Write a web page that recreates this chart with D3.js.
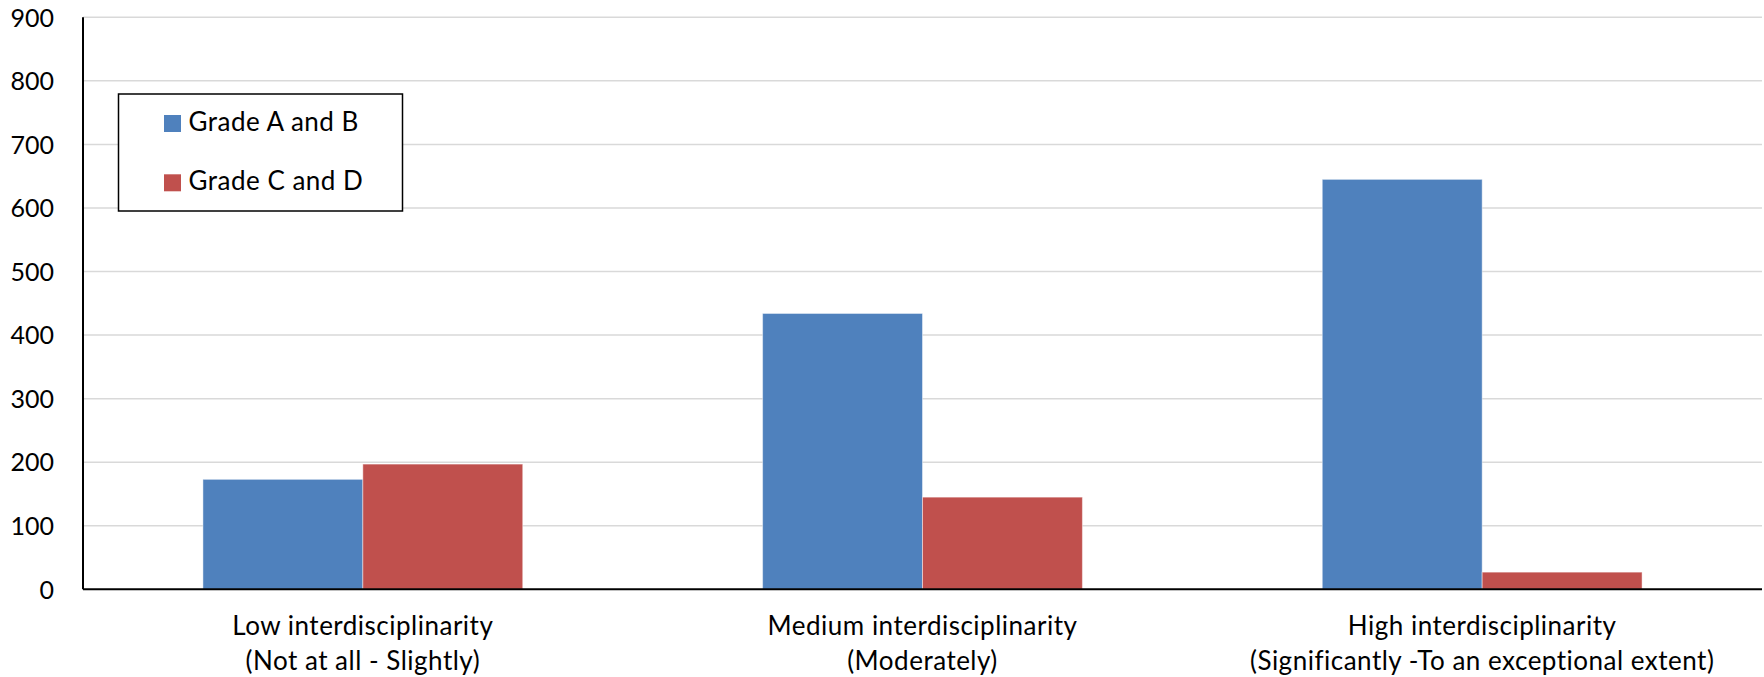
<!DOCTYPE html>
<html>
<head>
<meta charset="utf-8">
<script src="https://cdn.jsdelivr.net/npm/d3@7"></script>
<style>
  html, body { margin: 0; padding: 0; background: #fff; }
  svg { display: block; font-family: Lato, "Open Sans", sans-serif; }
</style>
</head>
<body>
<svg id="chart" width="1764" height="677"></svg>
<script>
const categories = [
  ["Low interdisciplinarity", "(Not at all - Slightly)"],
  ["Medium interdisciplinarity", "(Moderately)"],
  ["High interdisciplinarity", "(Significantly -To an exceptional extent)"]
];
const seriesNames = ["Grade A and B", "Grade C and D"];
const gradeAB = [173, 434, 645];
const gradeCD = [197, 145, 27];
const yTicks = [0, 100, 200, 300, 400, 500, 600, 700, 800, 900];
const colors = ["#4F81BD", "#C0504D"];

(function () {
const svg = d3.select("#chart");
const pLeft = 83, pRight = 1762, pTop = 17.3, pBottom = 589.3;
const catKeys = categories.map((c, i) => i);

const x0 = d3.scaleBand().domain(catKeys).range([pLeft, pRight]).paddingInner(0).paddingOuter(0);
const x1 = d3.scaleBand().domain([0, 1]).range([0, x0.bandwidth()]).paddingInner(0).paddingOuter(0.75);
const y = d3.scaleLinear().domain([0, 900]).range([pBottom, pTop]);

// gridlines
svg.append("g").selectAll("line").data(yTicks.filter(d => d > 0)).join("line")
  .attr("x1", pLeft).attr("x2", pRight)
  .attr("y1", d => y(d)).attr("y2", d => y(d))
  .attr("stroke", "#d9d9d9").attr("stroke-width", 1.5);

// y axis labels
const yAxis = d3.axisLeft(y).tickValues(yTicks).tickSize(0);
const gy = svg.append("g").attr("transform", `translate(${pLeft},0)`).call(yAxis);
gy.select(".domain").remove();
gy.selectAll("text").attr("font-size", 25).attr("fill", "#000")
  .attr("font-family", "Lato, sans-serif").attr("dy", "0.35em").attr("x", -29);

// bars
const data = catKeys.map(i => [gradeAB[i], gradeCD[i]]);
const groups = svg.append("g").selectAll("g").data(data).join("g")
  .attr("transform", (d, i) => `translate(${x0(i)},0)`);
groups.selectAll("rect").data(d => d.map((v, s) => ({v, s}))).join("rect")
  .attr("x", d => x1(d.s))
  .attr("width", x1.bandwidth())
  .attr("y", d => y(d.v))
  .attr("height", d => y(0) - y(d.v))
  .attr("fill", d => colors[d.s])
  .attr("stroke", "rgba(255,255,255,0.45)").attr("stroke-width", 1);

// axes lines
svg.append("line").attr("x1", pLeft).attr("x2", pLeft).attr("y1", pTop).attr("y2", pBottom)
  .attr("stroke", "#000").attr("stroke-width", 2);
svg.append("line").attr("x1", pLeft).attr("x2", pRight).attr("y1", pBottom).attr("y2", pBottom)
  .attr("stroke", "#000").attr("stroke-width", 2);

// x labels
const xl = svg.append("g").selectAll("text").data(categories).join("text")
  .attr("x", (d, i) => x0(i) + x0.bandwidth() / 2)
  .attr("y", 635)
  .attr("text-anchor", "middle")
  .attr("font-size", 26).attr("letter-spacing", "0.5px").attr("fill", "#000");
xl.selectAll("tspan").data(d => d).join("tspan")
  .attr("x", function() { return d3.select(this.parentNode).attr("x"); })
  .attr("dy", (d, j) => j === 0 ? 0 : 35)
  .text(d => d);

// legend
const lg = svg.append("g");
lg.append("rect").attr("x", 118.5).attr("y", 94).attr("width", 284).attr("height", 117)
  .attr("fill", "#fff").attr("stroke", "#000").attr("stroke-width", 1.5);
const items = lg.selectAll("g").data(seriesNames).join("g")
  .attr("transform", (d, i) => `translate(164,${115 + i * 59.3})`);
items.append("rect").attr("width", 17).attr("height", 17).attr("fill", (d, i) => colors[i]);
items.append("text").attr("x", 24.5).attr("y", 16).attr("font-size", 26)
  .attr("letter-spacing", "0.5px").attr("fill", "#000").text(d => d);
})();
</script>
</body>
</html>
